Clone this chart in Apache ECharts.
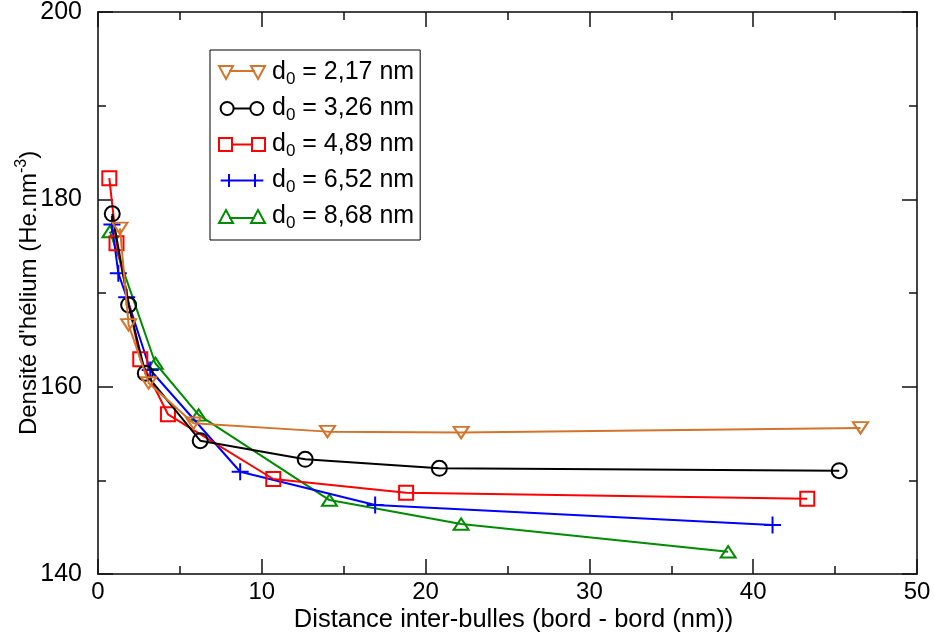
<!DOCTYPE html>
<html>
<head>
<meta charset="utf-8">
<script src="https://cdn.jsdelivr.net/npm/echarts@6/dist/echarts.min.js"></script>
<style>html,body{margin:0;padding:0;background:#fff;}#c{width:935px;height:636px;}</style>
</head>
<body>
<div id="c"></div>
<script>
const seriesNames = ['d0 = 2,17 nm', 'd0 = 3,26 nm', 'd0 = 4,89 nm', 'd0 = 6,52 nm', 'd0 = 8,68 nm'];
const legendTexts = ['2,17 nm', '3,26 nm', '4,89 nm', '6,52 nm', '8,68 nm'];
const x217 = [1.34, 1.87, 3.09, 5.83, 14.01, 22.17, 46.55];
const y217 = [176.9, 166.6, 160.4, 156.1, 155.2, 155.1, 155.6];
const x326 = [0.87, 1.87, 2.89, 6.24, 12.65, 20.84, 45.25];
const y326 = [178.45, 168.73, 161.43, 154.23, 152.24, 151.28, 151.03];
const x489 = [0.69, 1.13, 2.58, 4.27, 10.70, 18.81, 43.30];
const y489 = [182.26, 175.32, 162.93, 157.05, 150.14, 148.67, 148.03];
const x652 = [0.85, 1.24, 1.75, 3.19, 8.68, 16.92, 41.18];
const y652 = [177.3, 172.12, 169.55, 161.78, 150.92, 147.36, 145.22];
const x868 = [0.73, 3.50, 6.14, 14.13, 22.17, 38.47];
const y868 = [176.56, 162.50, 156.98, 147.89, 145.33, 142.37];
const xTicks = [0, 10, 20, 30, 40, 50];
const yTicks = [140, 160, 180, 200];

const colors = ['#d2742c', '#000000', '#ff0000', '#0000ff', '#008b00'];
const symbols = [
  'path://M0 0 L16 0 L8 14 Z',
  'circle',
  'rect',
  'path://M8 0 L8 16 M0 8 L16 8',
  'path://M8 0 L16 14 L0 14 Z'
];
const legendIcons = [
  'path://M0 0 L14 0 L7 13 Z M10 5 L36 5 M32 0 L46 0 L39 13 Z',
  'path://M0 7 A7 7 0 1 0 14 7 A7 7 0 1 0 0 7 Z M14 7 L32 7 M32 7 A7 7 0 1 0 46 7 A7 7 0 1 0 32 7 Z',
  'path://M0 0 H13 V13 H0 Z M13 6.5 H33 M33 0 H46 V13 H33 Z',
  'path://M0 7 H46 M9 0 V14 M37 0 V14',
  'path://M0 13 L14 13 L7 0 Z M10 8 L36 8 M32 13 L46 13 L39 0 Z'
];
const sizes = [[15, 13], 15, 14, 17, [15, 13]];
const xs = [x217, x326, x489, x652, x868];
const ys = [y217, y326, y489, y652, y868];

const font = 'Liberation Sans, Arial, Helvetica, sans-serif';
const axisCol = '#444';
const tickCol = '#111';

const series = seriesNames.map((n, i) => ({
  name: n,
  type: 'line',
  data: xs[i].map((v, k) => [v, ys[i][k]]),
  symbol: symbols[i],
  symbolSize: sizes[i],
  symbolKeepAspect: true,
  showAllSymbol: true,
  lineStyle: { color: colors[i], width: 2 },
  itemStyle: { color: 'rgba(255,255,255,0)', borderColor: colors[i], borderWidth: 2 },
  emphasis: { disabled: true },
  z: 10 - i
}));

function ticks() {
  return {
    axisTick: { inside: true, length: 15, lineStyle: { color: tickCol, width: 1.5 } },
    minorTick: { show: true, splitNumber: 2, length: 8, lineStyle: { color: tickCol, width: 1.5 } }
  };
}
function mirrorAxis(extra) {
  return Object.assign({
    type: 'value',
    axisLine: { onZero: false, lineStyle: { color: axisCol, width: 2 } },
    axisLabel: { show: false }, splitLine: { show: false }
  }, ticks(), extra);
}

const chart = echarts.init(document.getElementById('c'), null, { renderer: 'canvas' });
chart.setOption({
  animation: false,
  backgroundColor: '#fff',
  grid: { left: 98, right: 18, top: 12, bottom: 62, containLabel: false, outerBoundsMode: 'none' },
  legend: {
    orient: 'vertical',
    left: 210, top: 50,
    padding: [10, 6, 8, 8],
    borderColor: '#000', borderWidth: 1,
    itemWidth: 46, itemHeight: 13, itemGap: 8,
    data: seriesNames.map((n, i) => ({
      name: n,
      icon: legendIcons[i],
      itemStyle: { color: 'rgba(255,255,255,0)', borderColor: colors[i], borderWidth: 2 }
    })),
    formatter: function (name) {
      const i = seriesNames.indexOf(name);
      return '{d|d}{s|0}{a| = ' + legendTexts[i] + '}';
    },
    textStyle: {
      fontFamily: font, color: '#000',
      rich: {
        d: { fontSize: 25, lineHeight: 28, fontFamily: font, color: '#000', padding: [0, 0, 0, 2] },
        a: { fontSize: 25, lineHeight: 28, fontFamily: font, color: '#000' },
        s: { fontSize: 17, fontFamily: font, color: '#000', padding: [14, 0, 0, 0] }
      }
    }
  },
  xAxis: [Object.assign({
    type: 'value', min: 0, max: 50, interval: 10, position: 'bottom',
    name: 'Distance inter-bulles (bord - bord (nm))',
    nameLocation: 'middle', nameGap: 33, nameMoveOverlap: false,
    nameTextStyle: { fontSize: 25.5, fontFamily: font, color: '#000', padding: [0, 0, 0, 12] },
    axisLine: { onZero: false, lineStyle: { color: axisCol, width: 2 } },
    axisLabel: { fontSize: 24, fontFamily: font, color: '#000', margin: 6,
      formatter: v => xTicks.includes(v) ? String(v) : '' },
    splitLine: { show: false }
  }, ticks()), mirrorAxis({ min: 0, max: 50, interval: 10, position: 'top' })],
  yAxis: [Object.assign({
    type: 'value', min: 140, max: 200, interval: 20, position: 'left',
    name: 'Densité d\'hélium (He.nm{sup|-3})',
    nameLocation: 'middle', nameGap: 54, nameMoveOverlap: false,
    nameTextStyle: { fontSize: 24, fontFamily: font, color: '#000',
      rich: { sup: { fontSize: 16, fontFamily: font, color: '#000', padding: [0, 0, 14, 0] } } },
    axisLine: { onZero: false, lineStyle: { color: axisCol, width: 2 } },
    axisLabel: { fontSize: 25, fontFamily: font, color: '#000', margin: 16,
      formatter: v => yTicks.includes(v) ? String(v) : '' },
    splitLine: { show: false }
  }, ticks()), mirrorAxis({ min: 140, max: 200, interval: 20, position: 'right' })],
  series: series
});
</script>
</body>
</html>
